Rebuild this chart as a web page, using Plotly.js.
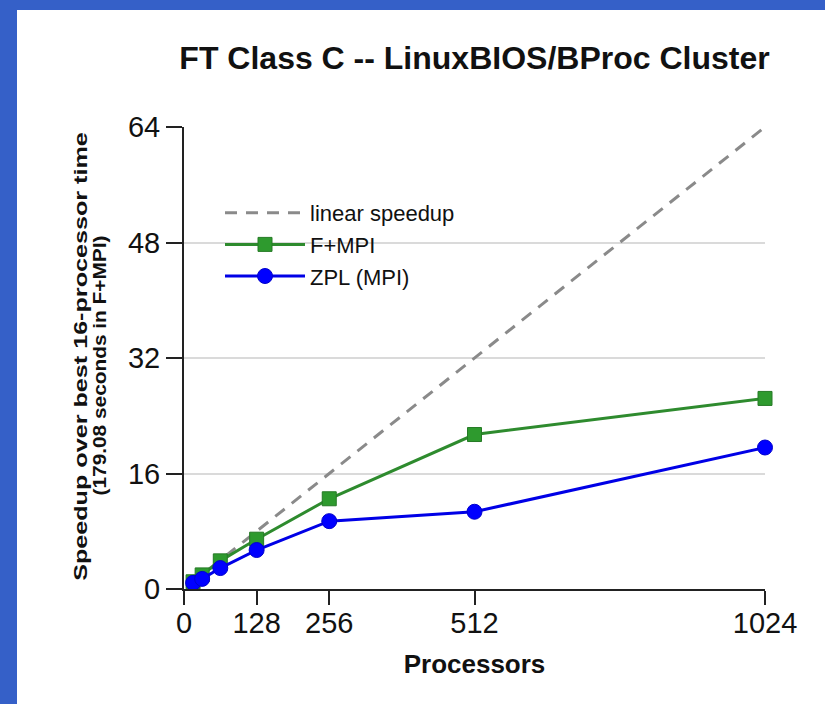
<!DOCTYPE html>
<html><head><meta charset="utf-8">
<script src="https://cdn.plot.ly/plotly-3.0.1.min.js"></script>
<style>
html,body{margin:0;padding:0;background:#3560c8;width:825px;height:704px;overflow:hidden}
#chart{position:absolute;left:17px;top:10px;width:808px;height:694px;background:#fff}
</style>
</head><body><div id="chart"></div>
<script>
const processors = [16, 32, 64, 128, 256, 512, 1024];
const linearSpeedup = [1, 2, 4, 8, 16, 32, 64];
const fMpi = [1, 1.95, 3.9, 6.9, 12.5, 21.4, 26.4];
const zplMpi = [0.85, 1.4, 2.9, 5.4, 9.4, 10.7, 19.6];
const xTicks = [0, 128, 256, 512, 1024];
const yTicks = [0, 16, 32, 48, 64];
const seriesNames = ['linear speedup', 'F+MPI', 'ZPL (MPI)'];
const titleText = 'FT Class C -- LinuxBIOS/BProc Cluster';
const xTitle = 'Processors';
const yTitle1 = 'Speedup over best 16-processor time';
const yTitle2 = '(179.08 seconds in F+MPI)';

const FONT = '"Liberation Sans", Arial, Helvetica, sans-serif';

const traces = [
  {x: processors, y: linearSpeedup, name: seriesNames[0], mode: 'lines',
   line: {color: '#8a8a8a', width: 3, dash: '12px,9px'}, cliponaxis: false},
  {x: processors, y: fMpi, name: seriesNames[1], mode: 'lines+markers',
   line: {color: '#2e8b2e', width: 3},
   marker: {symbol: 'square', size: 14, color: '#2e9a2e', line: {color: '#267a26', width: 1}}, cliponaxis: false},
  {x: processors, y: zplMpi, name: seriesNames[2], mode: 'lines+markers',
   line: {color: '#0000e6', width: 3},
   marker: {symbol: 'circle', size: 15, color: '#0000ff', line: {color: '#0000cc', width: 1}}, cliponaxis: false}
];

const layout = {
  width: 808, height: 694,
  margin: {l: 167, r: 60, t: 117, b: 115},
  paper_bgcolor: '#ffffff', plot_bgcolor: '#ffffff',
  font: {family: FONT, color: '#111'},
  title: {text: titleText, font: {family: FONT, size: 32, weight: 700, color: '#111'},
          x: 0.5, xref: 'paper', xanchor: 'center', y: 1 - 48/694, yref: 'container', yanchor: 'middle'},
  xaxis: {range: [0, 1024], tickvals: xTicks, ticktext: xTicks.map(String),
          ticks: 'outside', ticklen: 14, tickwidth: 2, tickcolor: '#222',
          showline: true, linecolor: '#222', linewidth: 2, showgrid: false, zeroline: false,
          ticklabelstandoff: -7,
          tickfont: {size: 29, family: FONT, color: '#111'},
          title: {text: xTitle, font: {size: 26, weight: 700, family: FONT, color: '#111'}, standoff: 17}},
  yaxis: {range: [0, 64], tickvals: yTicks, ticktext: yTicks.map(String),
          ticks: 'outside', ticklen: 16, tickwidth: 2, tickcolor: '#222',
          showline: true, linecolor: '#222', linewidth: 2,
          showgrid: true, gridcolor: '#dadada', gridwidth: 2, zeroline: false,
          tickfont: {size: 29, family: FONT, color: '#111'}},
  legend: {x: (220-184)/581, y: (589-192)/462, xanchor: 'left', yanchor: 'top',
           bgcolor: 'rgba(0,0,0,0)', font: {size: 22, family: FONT, color: '#111'},
           itemwidth: 80, tracegroupgap: 0},
  annotations: [
    {text: yTitle1, xref: 'paper', yref: 'paper', x: (80-184)/581, y: (589-357)/462,
     xanchor: 'center', yanchor: 'middle', textangle: -90, showarrow: false,
     font: {size: 19, weight: 700, family: FONT, color: '#111'}},
    {text: yTitle2, xref: 'paper', yref: 'paper', x: (99-184)/581, y: (589-366)/462,
     xanchor: 'center', yanchor: 'middle', textangle: -90, showarrow: false,
     font: {size: 19, weight: 700, family: FONT, color: '#111'}}
  ],
  showlegend: true
};

// lengths (px) of the two rotated y-title lines in the reference
const yTitleLengths = [449, 260];

function stretch(t, s) {
  const bb = t.getBBox();
  const cx = bb.x + bb.width / 2, cy = bb.y + bb.height / 2;
  t.setAttribute('transform', 'translate(' + cx + ',' + cy + ') scale(' + s + ',1) translate(' + (-cx) + ',' + (-cy) + ')');
}

Plotly.newPlot('chart', traces, layout, {displayModeBar: false, staticPlot: true}).then(function (gd) {
  gd.querySelectorAll('.annotation').forEach(function (g, i) {
    const t = g.querySelector('text.annotation-text');
    if (!t || yTitleLengths[i] === undefined) return;
    const w = t.getBBox().width;
    if (w) stretch(t, yTitleLengths[i] / w);
  });
});
</script></body></html>
